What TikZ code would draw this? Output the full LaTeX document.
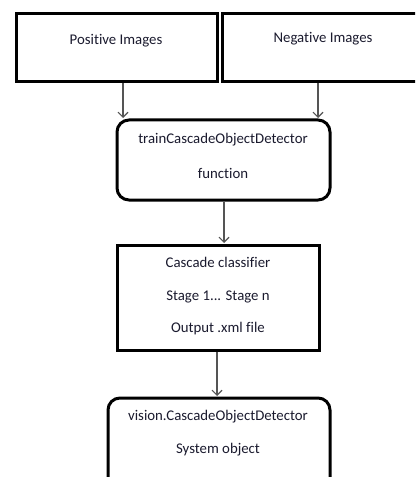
\documentclass[tikz,border=0pt]{standalone}
\usepackage{fontspec}
\setmainfont{Carlito}[Ligatures=NoCommon]
\usetikzlibrary{arrows.meta}
\definecolor{txt}{HTML}{1A1A2E}
\definecolor{arr}{HTML}{555555}
\tikzset{
  box/.style={draw=black, line width=3bp, fill=white},
  rbox/.style={box, rounded corners=12bp},
  lbl/.style={text=txt, font=\fontsize{14.8bp}{17bp}\selectfont, inner sep=0pt},
  flow/.style={draw=arr, line width=1.1bp, -{Straight Barb[length=5bp,width=10bp]}}
}
\begin{document}
\begin{tikzpicture}[x=1bp,y=-1bp]
  \useasboundingbox (0,0) rectangle (415,477);
  \clip (0,0) rectangle (415,477);
  % input boxes
  \draw[box] (16,14) rectangle (217,82);
  \draw[box] (222,14) rectangle (420,82);
  \node[lbl] (pos) at (116,41) {Positive Images};
  \node[lbl] (neg) at (323,39) {Negative Images};
  % training function
  \draw[rbox] (117,120) rectangle (330,200);
  \node[lbl] (train) at (223,140) {trainCascadeObjectDetector};
  \node[lbl] (fun) at (223,173) {function};
  % classifier
  \draw[box] (117,245) rectangle (319,350);
  \node[lbl] (cas) at (218,262) {Cascade classifier};
  \node[lbl] (stg) at (218,297) {Stage 1... Stage n};
  \node[lbl] (out) at (218,329) {Output .xml file};
  % detector object
  \draw[rbox] (108,398) rectangle (330,490);
  \node[lbl] (vis) at (218,417) {vision.CascadeObjectDetector};
  \node[lbl] (sys) at (218,450) {System object};
  % connectors
  \coordinate (p0) at (123,83.5);
  \coordinate (p1) at (123,118);
  \coordinate (n0) at (318,83.5);
  \coordinate (n1) at (318,118);
  \coordinate (t0) at (224,201.5);
  \coordinate (t1) at (224,243);
  \coordinate (c0) at (217,351.5);
  \coordinate (c1) at (217,396);
  \draw[flow] (p0) -- (p1);
  \draw[flow] (n0) -- (n1);
  \draw[flow] (t0) -- (t1);
  \draw[flow] (c0) -- (c1);
\end{tikzpicture}
\end{document}
